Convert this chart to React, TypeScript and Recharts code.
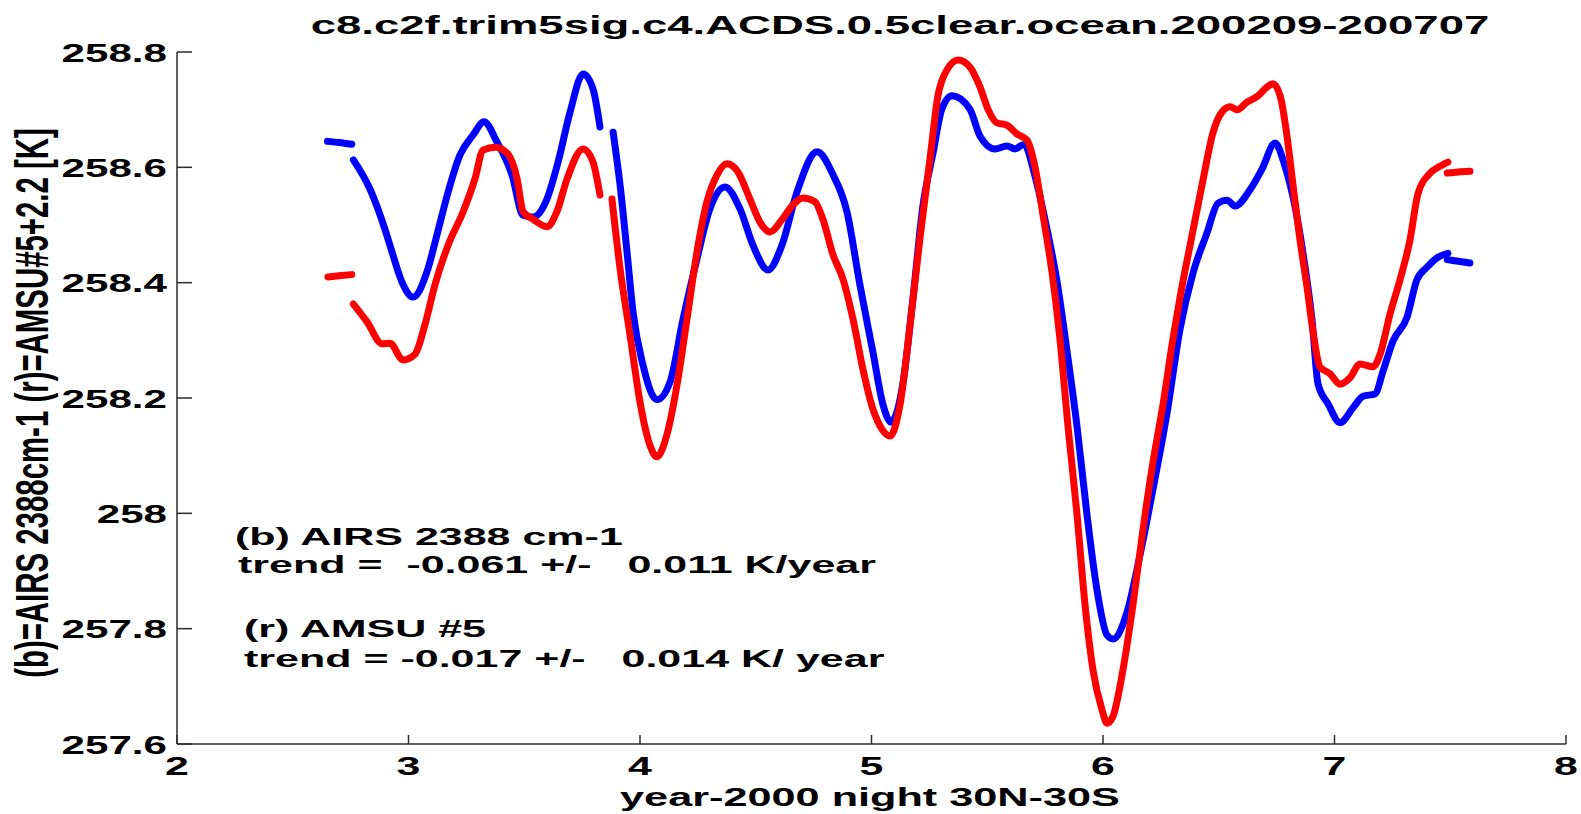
import React from "react";
import { LineChart, Line, XAxis, YAxis } from "recharts";

// AIRS 2388 cm-1 (blue) and AMSU #5 + 2.2 (red), 30N-30S night, clear ocean.
// null entries break the curve into its separate pieces.
const airsYear = [
  2.65, 2.7, 2.755, 2.758,
  2.762, 2.834, 2.898, 2.929, 2.972, 3.02, 3.08, 3.123, 3.171, 3.222, 3.279,
  3.326, 3.382, 3.447, 3.495, 3.538, 3.598, 3.646, 3.698, 3.754, 3.797, 3.827,
  3.85,
  3.884, 3.914, 3.944, 3.97, 4.013, 4.073, 4.13, 4.186, 4.246, 4.302, 4.367,
  4.432, 4.488, 4.553, 4.613, 4.678, 4.765, 4.834, 4.894, 4.95, 5.006, 5.05,
  5.084, 5.136, 5.179, 5.222, 5.266, 5.304, 5.348, 5.425, 5.469, 5.533, 5.585,
  5.62, 5.655, 5.715, 5.758, 5.801, 5.845, 5.888, 5.931, 5.974, 6.017, 6.043,
  6.104, 6.16, 6.216, 6.277, 6.333, 6.389, 6.449, 6.497, 6.536, 6.57, 6.635,
  6.687, 6.743, 6.786, 6.829, 6.864, 6.903, 6.929, 6.972, 7.024, 7.08, 7.123,
  7.175, 7.21, 7.253, 7.313, 7.356, 7.4, 7.447, 7.49,
  7.488,
  7.487, 7.535, 7.585,
];
const airsTemp = [
  258.645, 258.643, 258.64, null,
  258.613, 258.562, 258.493, 258.453, 258.401, 258.375, 258.419, 258.483,
  258.557, 258.621, 258.656, 258.679, 258.644, 258.587, 258.517, 258.514,
  258.545, 258.609, 258.696, 258.762, 258.736, 258.67,
  null,
  258.661, 258.569, 258.453, 258.349, 258.257, 258.197, 258.228, 258.337,
  258.441, 258.528, 258.566, 258.528, 258.465, 258.422, 258.465, 258.557,
  258.627, 258.587, 258.523, 258.396, 258.28, 258.188, 258.158, 258.226,
  258.372, 258.533, 258.625, 258.701, 258.724, 258.701, 258.654, 258.632,
  258.637, 258.632, 258.639, 258.571, 258.493, 258.403, 258.28, 258.15,
  257.997, 257.867, 257.789, 257.782, 257.829, 257.928, 258.042, 258.175,
  258.32, 258.417, 258.486, 258.538, 258.543, 258.533, 258.561, 258.597,
  258.642, 258.602, 258.533, 258.451, 258.335, 258.224, 258.19, 258.157,
  258.183, 258.203, 258.207, 258.247, 258.299, 258.34, 258.405, 258.427,
  258.444, 258.451,
  null,
  258.44, 258.437, 258.434,
];

const amsuYear = [
  2.652, 2.7, 2.755, 2.758,
  2.762, 2.821, 2.886, 2.92, 2.976, 3.028, 3.071, 3.114, 3.171, 3.236, 3.287,
  3.322, 3.374, 3.43, 3.469, 3.495, 3.538, 3.598, 3.641, 3.685, 3.754, 3.797,
  3.827,
  3.85,
  3.879, 3.914, 3.957, 4.0, 4.043, 4.073, 4.116, 4.16, 4.203, 4.246, 4.289,
  4.333, 4.376, 4.423, 4.475, 4.518, 4.562, 4.613, 4.661, 4.704, 4.756, 4.79,
  4.834, 4.877, 4.92, 4.963, 5.006, 5.045, 5.08, 5.123, 5.166, 5.21, 5.253,
  5.287, 5.326, 5.374, 5.425, 5.469, 5.503, 5.542, 5.585, 5.628, 5.672, 5.706,
  5.741, 5.78, 5.814, 5.849, 5.888, 5.922, 5.957, 5.996, 6.017, 6.043, 6.086,
  6.13, 6.173, 6.216, 6.259, 6.302, 6.333, 6.389, 6.432, 6.475, 6.514, 6.549,
  6.579, 6.622, 6.67, 6.708, 6.734, 6.765, 6.795, 6.821, 6.851, 6.881, 6.907,
  6.937, 6.981, 7.024, 7.067, 7.11, 7.166, 7.197, 7.24, 7.283, 7.326, 7.361,
  7.413, 7.456, 7.49,
  7.488,
  7.487, 7.535, 7.585,
];
const amsuTemp = [
  258.41, 258.412, 258.414, null,
  258.363, 258.332, 258.294, 258.295, 258.266, 258.276, 258.327, 258.396,
  258.465, 258.523, 258.58, 258.63, 258.635, 258.623, 258.58, 258.523,
  258.51, 258.497, 258.523, 258.58, 258.632, 258.609, 258.552,
  null,
  258.545, 258.424, 258.309, 258.193, 258.118, 258.098, 258.136, 258.223,
  258.337, 258.453, 258.54, 258.587, 258.606, 258.592, 258.545, 258.505,
  258.488, 258.509, 258.535, 258.547, 258.54, 258.51, 258.448, 258.406,
  258.337, 258.25, 258.181, 258.146, 258.134, 258.188, 258.325, 258.479,
  258.616, 258.724, 258.769, 258.786, 258.774, 258.739, 258.701, 258.677,
  258.673, 258.658, 258.647, 258.601, 258.517, 258.417, 258.302, 258.15,
  257.997, 257.843, 257.728, 257.659, 257.636, 257.648, 257.728, 257.843,
  257.973, 258.089, 258.188, 258.302, 258.375, 258.491, 258.578, 258.66,
  258.696, 258.705, 258.7, 258.713, 258.724, 258.739, 258.745, 258.724,
  258.654, 258.568, 258.474, 258.393, 258.316, 258.254, 258.242, 258.224,
  258.235, 258.259, 258.254, 258.276, 258.346, 258.405, 258.474, 258.555,
  258.59, 258.602, 258.609,
  null,
  258.59, 258.592, 258.593,
];

const xTicks = [2, 3, 4, 5, 6, 7, 8];
const yTicks = [257.6, 257.8, 258, 258.2, 258.4, 258.6, 258.8];

const titleText = "c8.c2f.trim5sig.c4.ACDS.0.5clear.ocean.200209-200707";
const xLabel = "year-2000 night 30N-30S";
const yLabel = "(b)=AIRS 2388cm-1 (r)=AMSU#5+2.2 [K]";
const notes = [
  "(b) AIRS 2388 cm-1",
  "trend =  -0.061 +/-   0.011 K/year",
  "(r) AMSU #5",
  "trend = -0.017 +/-   0.014 K/ year",
];

const airsData = airsYear.map((year, i) => ({ year, temp: airsTemp[i] }));
const amsuData = amsuYear.map((year, i) => ({ year, temp: amsuTemp[i] }));

const W = 1581;
const H = 814;
const LEFT = 177;
const RIGHT = 1566;
const TOP = 52;
const BOTTOM = 744;
const FONT = '"Liberation Sans", Arial, Helvetica, sans-serif';
const AXIS = "#2b2b2b";

// MATLAB export is wide, so glyphs are stretched horizontally
function Wide({ x, y, sx, size, anchor = "start", children }: any) {
  return (
    <text
      transform={`translate(${x},${y}) scale(${sx},1)`}
      textAnchor={anchor}
      fontFamily={FONT}
      fontWeight="bold"
      fontSize={size}
      fill="#000"
      style={{ whiteSpace: "pre" }}
    >
      {children}
    </text>
  );
}

const BottomTick = ({ x, payload }: any) => (
  <g>
    <line x1={x} x2={x} y1={BOTTOM} y2={BOTTOM - 9} stroke={AXIS} strokeWidth={1.5} />
    <Wide x={x} y={BOTTOM + 31} sx={1.65} size={26} anchor="middle">
      {String(payload.value)}
    </Wide>
  </g>
);

const TopTick = ({ x }: any) => (
  <line x1={x} x2={x} y1={TOP} y2={TOP + 9} stroke={AXIS} strokeWidth={1.5} />
);

const LeftTick = ({ y, payload }: any) => (
  <g>
    <line x1={LEFT} x2={LEFT + 15} y1={y} y2={y} stroke={AXIS} strokeWidth={1.5} />
    <Wide x={LEFT - 10} y={y + 9.5} sx={1.62} size={26} anchor="end">
      {String(payload.value)}
    </Wide>
  </g>
);

const RightTick = ({ y }: any) => (
  <line x1={RIGHT} x2={RIGHT - 15} y1={y} y2={y} stroke={AXIS} strokeWidth={1.5} />
);

export default function App() {
  return (
    <div style={{ position: "absolute", left: 0, top: 0, width: W, height: H, background: "#fff" }}>
      <LineChart width={W} height={H} margin={{ top: TOP, right: W - RIGHT, bottom: 0, left: 0 }}>
        <XAxis
          xAxisId="b"
          dataKey="year"
          type="number"
          domain={[2, 8]}
          ticks={xTicks}
          interval={0}
          allowDataOverflow
          height={H - BOTTOM}
          tickSize={0}
          tickMargin={0}
          tickLine={false}
          axisLine={{ stroke: AXIS, strokeWidth: 1.5 }}
          tick={<BottomTick />}
        />
        <XAxis
          xAxisId="t"
          orientation="top"
          type="number"
          domain={[2, 8]}
          ticks={xTicks}
          interval={0}
          allowDataOverflow
          height={0}
          tickSize={0}
          tickLine={false}
          axisLine={{ stroke: AXIS, strokeWidth: 1.5 }}
          tick={<TopTick />}
        />
        <YAxis
          yAxisId="l"
          type="number"
          domain={[257.6, 258.8]}
          ticks={yTicks}
          interval={0}
          allowDataOverflow
          width={LEFT}
          tickSize={0}
          tickMargin={0}
          tickLine={false}
          axisLine={{ stroke: AXIS, strokeWidth: 1.5 }}
          tick={<LeftTick />}
        />
        <YAxis
          yAxisId="r"
          orientation="right"
          type="number"
          domain={[257.6, 258.8]}
          ticks={yTicks}
          interval={0}
          allowDataOverflow
          width={0}
          tickSize={0}
          tickLine={false}
          axisLine={{ stroke: AXIS, strokeWidth: 1.5 }}
          tick={<RightTick />}
        />
        <Line
          xAxisId="b"
          yAxisId="l"
          data={airsData}
          dataKey="temp"
          type="monotone"
          stroke="#0000ff"
          strokeWidth={7}
          strokeLinecap="round"
          strokeLinejoin="round"
          dot={false}
          activeDot={false}
          connectNulls={false}
          isAnimationActive={false}
        />
        <Line
          xAxisId="b"
          yAxisId="l"
          data={amsuData}
          dataKey="temp"
          type="monotone"
          stroke="#ff0000"
          strokeWidth={7}
          strokeLinecap="round"
          strokeLinejoin="round"
          dot={false}
          activeDot={false}
          connectNulls={false}
          isAnimationActive={false}
        />
      </LineChart>
      <svg
        width={W}
        height={H}
        style={{ position: "absolute", left: 0, top: 0, pointerEvents: "none" }}
      >
        <Wide x={900} y={34} sx={1.82} size={25} anchor="middle">
          {titleText}
        </Wide>
        <Wide x={870} y={806} sx={1.73} size={25} anchor="middle">
          {xLabel}
        </Wide>
        <text
          transform="translate(34,403) rotate(-90) scale(1,1.6)"
          y={9}
          textAnchor="middle"
          fontFamily={FONT}
          fontWeight="bold"
          fontSize={29.4}
          fill="#000"
        >
          {yLabel}
        </text>
        <Wide x={235} y={545} sx={1.87} size={23}>{notes[0]}</Wide>
        <Wide x={238} y={573} sx={1.87} size={23}>{notes[1]}</Wide>
        <Wide x={244} y={637} sx={1.87} size={23}>{notes[2]}</Wide>
        <Wide x={244} y={667} sx={1.87} size={23}>{notes[3]}</Wide>
      </svg>
    </div>
  );
}
